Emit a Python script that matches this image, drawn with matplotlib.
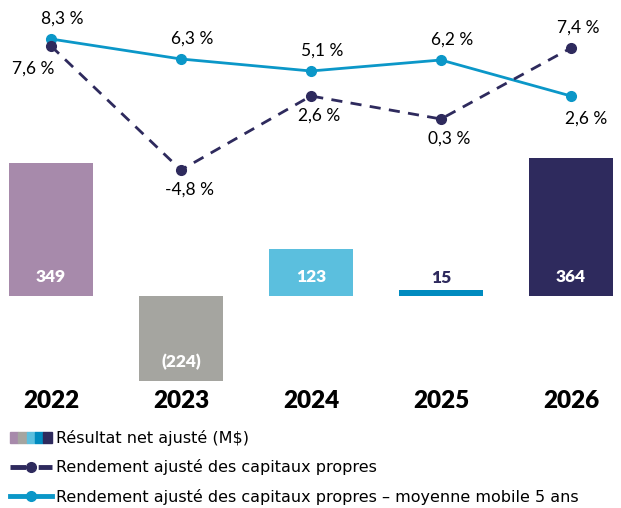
import matplotlib.pyplot as plt
from matplotlib.lines import Line2D
from matplotlib.patches import Patch
from matplotlib.legend_handler import HandlerTuple

plt.rcParams['font.family'] = ['Lato', 'DejaVu Sans']

# données
years = ['2022', '2023', '2024', '2025', '2026']
net_income = [349, -224, 123, 15, 364]
income_labels = ['349', '(224)', '123', '15', '364']
roe = [7.6, -4.8, 2.6, 0.3, 7.4]
roe_avg = [8.3, 6.3, 5.1, 6.2, 2.6]

bar_colors = ['#a78aab', '#a5a5a0', '#5bbfde', '#008bbf', '#2e2a5d']
navy = '#2e2a5d'
blue = '#0b97c8'

fig = plt.figure(figsize=(6.21, 5.08), dpi=100)
ax = fig.add_axes([0, 0, 1, 1])
ax.axis('off')
x = list(range(len(years)))

ax.bar(x, net_income, width=0.65, color=bar_colors)
ax.set_xlim(-0.392, 4.385)
ax.set_ylim(-558, 779)

for i, v in enumerate(net_income):
    if abs(v) < 50:
        ax.annotate(income_labels[i], (i, v), xytext=(0, 3), textcoords='offset points',
                    ha='center', va='bottom', color=navy, fontsize=12.5, fontweight='heavy')
    else:
        y = 0 if v > 0 else v
        ax.annotate(income_labels[i], (i, y), xytext=(0, 14), textcoords='offset points',
                    ha='center', va='center', color='white', fontsize=12.5, fontweight='heavy')
    ax.annotate(years[i], (i, -224), xytext=(0, -14), textcoords='offset points',
                ha='center', va='center', color='black', fontsize=17.5, fontweight='heavy')

ax2 = ax.twinx()
ax2.axis('off')
ax2.set_ylim(-38.6, 12.2)
ax2.plot(x, roe_avg, color=blue, lw=2, marker='o', ms=7, zorder=3)
ax2.plot(x, roe, color=navy, lw=2, ls=(0, (4, 3)), marker='o', ms=7, zorder=3)

def pct(v):
    return f'{v:.1f}'.replace('.', ',') + ' %'

# étiquettes moyenne mobile (au-dessus sauf 2026)
for i, v in enumerate(roe_avg):
    if i == 4:
        ax2.annotate(pct(v), (i, v), xytext=(11, -16), textcoords='offset points',
                     ha='center', va='center', fontsize=12.5)
    else:
        ax2.annotate(pct(v), (i, v), xytext=(8, 15), textcoords='offset points',
                     ha='center', va='center', fontsize=12.5)

# étiquettes rendement
for i, v in enumerate(roe):
    if i == 0:
        ax2.annotate(pct(v), (i, v), xytext=(-13, -16), textcoords='offset points',
                     ha='center', va='center', fontsize=12.5)
    elif i == 4:
        ax2.annotate(pct(v), (i, v), xytext=(5, 15), textcoords='offset points',
                     ha='center', va='center', fontsize=12.5)
    else:
        ax2.annotate(pct(v), (i, v), xytext=(6, -14), textcoords='offset points',
                     ha='center', va='center', fontsize=12.5)

handles = [
    tuple(Patch(color=c) for c in bar_colors),
    Line2D([], [], color=navy, lw=3.5, ls=(0, (3.2, 2.6)), marker='o', ms=7),
    Line2D([], [], color=blue, lw=3.5, marker='o', ms=7),
]
labels = ['Résultat net ajusté (M$)',
          'Rendement ajusté des capitaux propres',
          'Rendement ajusté des capitaux propres – moyenne mobile 5 ans']
fig.legend(handles, labels, loc='upper left', bbox_to_anchor=(10 / 621, 1 - 430 / 508),
           frameon=False, prop={'family': 'DejaVu Sans', 'size': 11.5},
           handlelength=2.6, handletextpad=0.3,
           labelspacing=0.84, borderaxespad=0, borderpad=0, numpoints=1,
           handler_map={tuple: HandlerTuple(ndivide=None, pad=0)})

fig.savefig('out.png', dpi=100)
